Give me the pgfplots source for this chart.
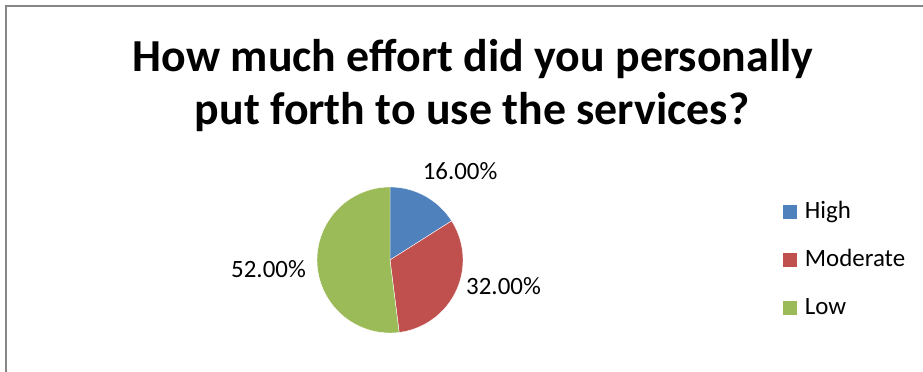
\documentclass[border=0pt]{standalone}
\usepackage{pgfplots}
\pgfplotsset{compat=1.18}
\usepackage{fontspec}
\setmainfont{Carlito}
\definecolor{cHigh}{HTML}{4F81BD}
\definecolor{cMod}{HTML}{C0504D}
\definecolor{cLow}{HTML}{9BBB59}
\definecolor{frameg}{HTML}{868686}
% data (percent)
\def\vHigh{16}
\def\vMod{32}
\def\vLow{52}
\begin{document}
\begin{tikzpicture}
\useasboundingbox (0,0) rectangle (923bp,372bp);
\draw[frameg, line width=1.6bp] (6bp,-10bp) -- (6bp,366bp) -- (940bp,366bp);
\node[font=\fontsize{46}{53}\selectfont\bfseries, anchor=base, inner sep=0pt] at (473bp,300bp) {How much effort did you personally};
\node[font=\fontsize{46}{53}\selectfont\bfseries, anchor=base, inner sep=0pt] at (472bp,247bp) {put forth to use the services?};
\begin{axis}[at={(390bp,112bp)}, anchor=center, scale only axis,
  width=146bp, height=146bp, xmin=-1, xmax=1, ymin=-1, ymax=1,
  hide axis, clip=false,
  legend image code/.code={\fill[#1, draw=none] (0bp,-7bp) rectangle (14bp,7bp);},
  legend cell align=left,
  legend style={at={(3.19,0.5)}, anchor=west, draw=none, fill=none,
    font=\fontsize{25}{30}\selectfont, row sep=23bp, inner sep=0pt,
    /tikz/every odd column/.append style={column sep=7bp},
    nodes={inner sep=1bp, text height=18bp, text depth=5bp}},
]
\addplot[fill=cHigh, draw=white, line width=0.4bp, domain={90-3.6*\vHigh}:90, samples=40] ({cos(x)},{sin(x)}) -- (0,0) -- cycle;
\addlegendentry{High}
\addplot[fill=cMod, draw=white, line width=0.4bp, domain={90-3.6*(\vHigh+\vMod)}:{90-3.6*\vHigh}, samples=60] ({cos(x)},{sin(x)}) -- (0,0) -- cycle;
\addlegendentry{Moderate}
\addplot[fill=cLow, draw=white, line width=0.4bp, domain={90-3.6*(\vHigh+\vMod+\vLow)}:{90-3.6*(\vHigh+\vMod)}, samples=80] ({cos(x)},{sin(x)}) -- (0,0) -- cycle;
\addlegendentry{Low}
\node[font=\fontsize{25}{30}\selectfont, anchor=base, inner sep=0pt] at (0.96,1.096) {16.00\%};
\node[font=\fontsize{25}{30}\selectfont, anchor=base, inner sep=0pt] at (1.555,-0.466) {32.00\%};
\node[font=\fontsize{25}{30}\selectfont, anchor=base, inner sep=0pt] at (-1.664,-0.233) {52.00\%};
\end{axis}
\end{tikzpicture}
\end{document}
